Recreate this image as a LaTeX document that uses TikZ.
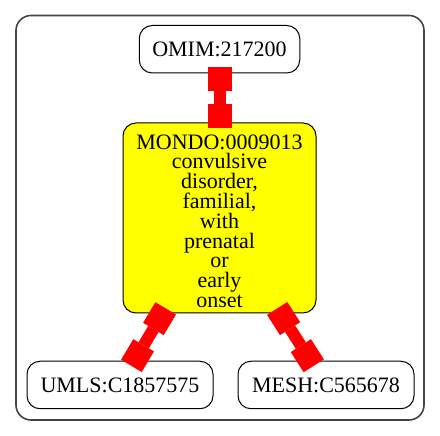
\documentclass[tikz,border=0pt]{standalone}
\usepackage{fontspec}
\setmainfont{Liberation Serif}
\usetikzlibrary{arrows.meta,positioning}
\definecolor{clusterline}{HTML}{444444}
\definecolor{mondofill}{HTML}{FFFF00}
\definecolor{xrefred}{HTML}{FF0000}
\newcommand{\topgap}{\rule{0pt}{21pt}}
\tikzset{
  termbox/.style={draw, rounded corners=13pt, line width=1pt, align=center,
    inner sep=0pt, minimum height=47.5pt, fill=white,
    font=\fontsize{22}{19.8}\selectfont},
  mondobox/.style={termbox, fill=mondofill, minimum width=193pt, minimum height=190pt},
  xrefarr/.style={draw=xrefred, line width=12pt,
    {Square[length=24pt,width=24pt,line width=0pt]}-{Square[length=24pt,width=24pt,line width=0pt]},
    shorten <=-6pt, shorten >=-6pt}
}
\begin{document}
\begin{tikzpicture}[x=1pt,y=1pt]
        \useasboundingbox (0,0) rectangle (440,436);
        \draw[clusterline, line width=1.6pt, rounded corners=15pt] (16,16) rectangle (424,420.5);
        \node[mondobox] (mondo) at (219.5,218) {\topgap MONDO:0009013\\convulsive\\disorder,\\familial,\\with\\prenatal\\or\\early\\onset};
        \node[termbox, minimum width=160.5pt, above=49pt of mondo] (omim) {OMIM:217200};
        \node[termbox, minimum width=186pt] (umls) at (120,51) {UMLS:C1857575};
        \node[termbox, minimum width=176pt, right=24pt of umls] (mesh) {MESH:C565678};
        \draw[xrefarr] (omim) -- (mondo);
        \draw[xrefarr] (mondo) -- (umls);
        \draw[xrefarr] (mondo) -- (mesh);
      \end{tikzpicture}
\end{document}
